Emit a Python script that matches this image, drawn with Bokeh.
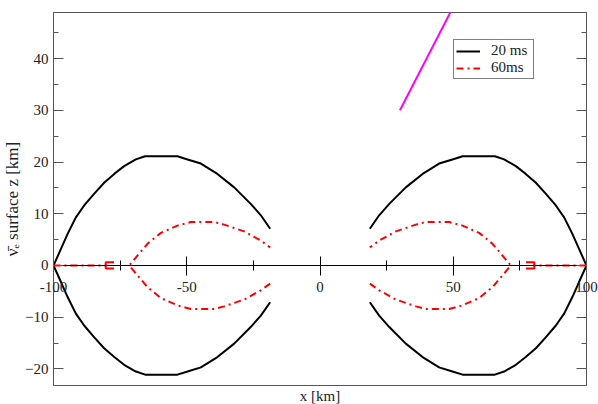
from bokeh.plotting import figure
from bokeh.models import (Range1d, LinearAxis, FixedTicker, CustomLabelingPolicy, Label)
from bokeh.embed import file_html
from bokeh.resources import INLINE

# ---- data ----
# upper-left quarter of the 20 ms surface (mirrored to the other quadrants)
black_x = [-100, -97.2, -94.7, -91.6, -88.5, -84.7, -81.0, -77.2, -73.5, -69.1,
           -65.6, -53.5, -49.7, -44.7, -38.5, -32.2, -26.0, -22.2, -18.7]
black_z = [0, 3.2, 6.1, 9.3, 11.6, 13.9, 16.0, 17.7, 19.2, 20.5,
           21.1, 21.1, 20.5, 19.7, 17.7, 15.1, 11.9, 9.7, 7.1]
# upper-left quarter of the 60 ms surface
red_x = [-71.6, -68.5, -64.7, -59.7, -53.5, -48.5, -39.7, -36.0, -28.5, -22.2, -18.7]
red_z = [0, 1.9, 4.2, 6.3, 7.7, 8.4, 8.4, 7.9, 6.6, 4.8, 3.5]
# 60 ms contour lying on the axis near the edges
red_axis_x = [-100, -80.4]
red_axis_z = [0, 0]
red_box_x = [-77.3, -80.4, -80.4, -77.3]
red_box_z = [0.6, 0.6, -0.6, -0.6]
# magenta line
mag_x = [30, 50]
mag_z = [30, 50]

x_ticks = [-100, -50, 0, 50, 100]
x_tick_labels = ["-100", "-50", "0", "50", "100"]
x_minor = [-75, -25, 25, 75]
y_ticks = [-20, -10, 0, 10, 20, 30, 40]
y_minor = [-20, -15, -10, -5, 0, 5, 10, 15, 20, 25, 30, 35, 40, 45]

def full_curve(xq, zq):
    # join lower (mirrored) and upper branch into one left curve, then mirror to right
    lx = xq[::-1] + xq[1:]
    lz = [-v for v in zq[::-1]] + zq[1:]
    rx = [-v for v in lx]
    return [lx, rx], [lz, lz]

FONT = "Liberation Serif"
NO_LABELS = "for (const i of indices) indices.unset(i)\nreturn indices"

p = figure(frame_width=533, frame_height=373,
           x_range=Range1d(-100, 100), y_range=Range1d(-23.2, 48.9),
           output_backend="svg", toolbar_location=None,
           min_border_left=45, min_border_right=10, min_border_top=12, min_border_bottom=0)
p.xgrid.grid_line_color = None
p.ygrid.grid_line_color = None
p.outline_line_color = "#555555"
p.outline_line_width = 1

# x axis drawn on z = 0 (ticks only; labels drawn as annotations below)
xa = p.xaxis[0]
xa.fixed_location = 0
xa.ticker = FixedTicker(ticks=x_ticks, minor_ticks=x_minor)
xa.axis_line_color = "black"
xa.major_tick_line_color = "black"
xa.minor_tick_line_color = "black"
xa.major_tick_in = 9
xa.major_tick_out = 10
xa.minor_tick_in = 5
xa.minor_tick_out = 5
xa.major_label_policy = CustomLabelingPolicy(code=NO_LABELS)

# bottom frame axis with label
bx = LinearAxis(ticker=FixedTicker(ticks=[]), axis_label="x [km]")
bx.axis_line_color = "#555555"
bx.major_tick_in = 0
bx.major_tick_out = 0
bx.minor_tick_in = 0
bx.minor_tick_out = 0
bx.major_label_standoff = 0
bx.axis_label_standoff = 2
bx.axis_label_text_font = FONT
bx.axis_label_text_font_size = "15px"
bx.axis_label_text_font_style = "normal"
bx.axis_label_text_color = "#222222"
p.add_layout(bx, "below")

# tick labels of the z = 0 axis, placed in a side panel so they are not clipped by the frame
for xt, lab in zip(x_ticks, x_tick_labels):
    p.add_layout(Label(x=xt, y=0, text=lab, y_offset=-22,
                       text_align="center", text_baseline="middle",
                       text_font=FONT, text_font_size="15px", text_color="#222222"),
                 "below")

ya = p.yaxis[0]
ya.ticker = FixedTicker(ticks=y_ticks, minor_ticks=y_minor)
ya.axis_line_color = "#555555"
ya.major_tick_line_color = "#555555"
ya.minor_tick_line_color = "#555555"
ya.major_tick_in = 10
ya.major_tick_out = 0
ya.minor_tick_in = 5
ya.minor_tick_out = 0
ya.major_label_standoff = 5
ya.major_label_text_font = FONT
ya.major_label_text_font_size = "15px"
ya.major_label_text_color = "#222222"
ya.axis_label = "ν̄ₑ surface z [km]"
ya.axis_label_text_font = FONT
ya.axis_label_text_font_size = "17px"
ya.axis_label_text_font_style = "normal"
ya.axis_label_text_color = "#222222"
ya.axis_label_standoff = 0

ra = LinearAxis(ticker=FixedTicker(ticks=y_ticks, minor_ticks=y_minor))
ra.axis_line_color = "#555555"
ra.major_tick_line_color = "#555555"
ra.minor_tick_line_color = "#555555"
ra.major_tick_in = 10
ra.major_tick_out = 0
ra.minor_tick_in = 5
ra.minor_tick_out = 0
ra.major_label_standoff = 0
ra.major_label_policy = CustomLabelingPolicy(code=NO_LABELS)
p.add_layout(ra, "right")

bxs, bzs = full_curve(black_x, black_z)
p.multi_line(xs=bxs, ys=bzs, line_color="black", line_width=2, legend_label="20 ms")

rxs, rzs = full_curve(red_x, red_z)
rxs = rxs + [red_axis_x, [-v for v in red_axis_x]]
rzs = rzs + [red_axis_z, red_axis_z]
p.multi_line(xs=rxs, ys=rzs, line_color="#ff0000", line_width=2,
             line_dash="7 4 2 4", legend_label="60ms")
p.multi_line(xs=[red_box_x, [-v for v in red_box_x]], ys=[red_box_z, red_box_z],
             line_color="#ff0000", line_width=2)

p.line(mag_x, mag_z, line_color="#ff00ff", line_width=2)

lg = p.legend[0]
lg.location = (400, 306)
lg.border_line_color = "black"
lg.border_line_width = 1
lg.background_fill_alpha = 1
lg.label_text_font = FONT
lg.label_text_font_size = "15px"
lg.label_text_color = "#222222"
lg.glyph_width = 24
lg.glyph_height = 16
lg.label_height = 16
lg.label_width = 40
lg.label_standoff = 11
lg.padding = 2
lg.spacing = 0
lg.margin = 0

open("out.html", "w").write(file_html(p, INLINE))
